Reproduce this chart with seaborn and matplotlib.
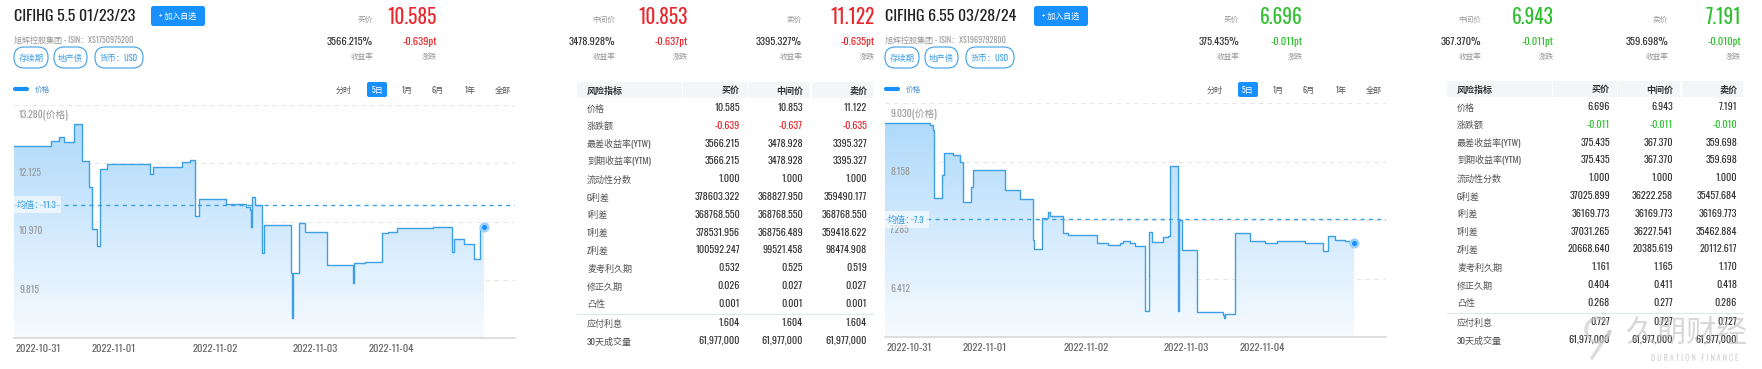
import numpy as np
import seaborn as sns
import matplotlib.pyplot as plt
from matplotlib.patches import FancyBboxPatch, Arc
from matplotlib.colors import LinearSegmentedColormap
from matplotlib.transforms import ScaledTranslation

sns.set_theme(style='white')
plt.rcParams['font.family'] = ['Oswald', 'Noto Sans CJK SC', 'DejaVu Sans']
plt.rcParams['axes.unicode_minus'] = False

# ---- data: 5日价格走势 (t = 时间位置, v = 价格) ----
t_left = [0, 37.3, 45, 50, 59.7, 68, 75, 78, 83.3, 85.7, 93.3, 135.7, 139, 168, 176.3, 180.7,
          181.3, 184.7, 211.7, 232.3, 235.7, 237.3, 238.3, 240.7, 248, 250, 277.3, 278, 279,
          285, 290.7, 313, 339, 339.7, 350.7, 368.3, 374, 383.3, 419, 438, 439.7, 449.7, 460,
          466.3, 469.7]
v_left = [12.468, 12.567, 12.639, 12.547, 12.897, 12.164, 11.662, 10.823, 10.487, 12.005, 12.104,
          11.906, 12.058, 12.157, 12.190, 12.091, 11.081, 11.418, 11.319, 11.266, 11.200, 10.856,
          11.451, 11.299, 10.341, 10.903, 9.945, 9.053, 9.945, 10.949, 10.764, 10.110, 9.747,
          10.143, 10.176, 10.737, 10.757, 10.837, 10.863, 10.374, 10.619, 10.526, 10.222,
          10.853, 10.853]

t_right = [0, 45, 48.3, 49.3, 57.3, 59.3, 68.3, 75, 78.3, 85.7, 87.7, 120, 135, 147.7, 149.3,
           157.3, 163.3, 165, 177.7, 183.3, 211.7, 223.3, 235, 238.3, 245, 250, 260, 264.3, 266.7,
           278.3, 283.3, 285, 293.3, 294, 297.3, 312.3, 338.3, 339.3, 340.3, 350, 365, 380, 391.7,
           420, 438.3, 443.3, 450, 460, 465, 469.3]
v_right = [8.731, 8.706, 8.631, 7.618, 7.957, 8.282, 8.257, 8.157, 7.558, 7.783, 8.042, 7.733,
           7.608, 6.985, 6.860, 7.324, 7.409, 7.344, 7.099, 7.069, 6.950, 6.925, 6.950, 6.970,
           6.950, 6.910, 5.927, 7.109, 6.960, 7.034, 7.059, 8.097, 5.927, 7.284, 6.845, 5.922,
           5.872, 5.827, 5.887, 7.099, 6.970, 6.945, 6.970, 6.955, 6.835, 7.049, 6.985, 6.970,
           6.943, 6.943]

date_ticks = [24, 100, 201, 301, 377]
date_labels = ['2022-10-31', '2022-11-01', '2022-11-02', '2022-11-03', '2022-11-04']
yticks_left = [13.280, 12.125, 10.970, 9.815]
yticks_right = [9.030, 8.158, 7.285, 6.412]
mean_left, mean_right = 11.3, 7.3

# ---- 表头 ----
titles = ['CIFIHG 5.5 01/23/23', 'CIFIHG 6.55 03/28/24']
isins = ['XS1750975200', 'XS1969792800']
price_names = ['买价', '中间价', '卖价']
prices_left = ['10.585', '10.853', '11.122']
yields_left = ['3566.215%', '3478.928%', '3395.327%']
changes_left = ['-0.639pt', '-0.637pt', '-0.635pt']
prices_right = ['6.696', '6.943', '7.191']
yields_right = ['375.435%', '367.370%', '359.698%']
changes_right = ['-0.011pt', '-0.011pt', '-0.010pt']
tags = ['存续期', '地产债', '货币：USD']
periods = ['分时', '5日', '1月', '6月', '1年', '全部']

# ---- 风险指标表 ----
row_labels = ['价格', '涨跌额', '最差收益率(YTW)', '到期收益率(YTM)', '流动性分数', 'G利差', 'I利差',
              'T利差', 'Z利差', '麦考利久期', '修正久期', '凸性', '应付利息', '30天成交量']
bid_left = ['10.585', '-0.639', '3566.215', '3566.215', '1.000', '378603.322', '368768.550',
            '378531.956', '100592.247', '0.532', '0.026', '0.001', '1.604', '61,977,000']
mid_left = ['10.853', '-0.637', '3478.928', '3478.928', '1.000', '368827.950', '368768.550',
            '368756.489', '99521.458', '0.525', '0.027', '0.001', '1.604', '61,977,000']
ask_left = ['11.122', '-0.635', '3395.327', '3395.327', '1.000', '359490.177', '368768.550',
            '359418.622', '98474.908', '0.519', '0.027', '0.001', '1.604', '61,977,000']
bid_right = ['6.696', '-0.011', '375.435', '375.435', '1.000', '37025.899', '36169.773',
             '37031.265', '20668.640', '1.161', '0.404', '0.268', '0.727', '61,977,000']
mid_right = ['6.943', '-0.011', '367.370', '367.370', '1.000', '36222.258', '36169.773',
             '36227.541', '20385.619', '1.165', '0.411', '0.277', '0.727', '61,977,000']
ask_right = ['7.191', '-0.010', '359.698', '359.698', '1.000', '35457.684', '36169.773',
             '35462.884', '20112.617', '1.170', '0.418', '0.286', '0.727', '61,977,000']

RED, GREEN, BLUE = '#e8262b', '#2fc02f', '#1890ff'
LINE = '#3d9fe6'

W, H = 1762, 369
fig = plt.figure(figsize=(W / 100, H / 100), dpi=100)
bg = fig.add_axes([0, 0, 1, 1])
bg.set_xlim(0, W)
bg.set_ylim(H, 0)
bg.axis('off')


def rbox(x0, y0, x1, y1, r, fc, ec='none', lw=0):
    bg.add_patch(FancyBboxPatch((x0, y0), x1 - x0, y1 - y0,
                                boxstyle=f'round,pad=0,rounding_size={r}', fc=fc, ec=ec, lw=lw))


def header(dx, hdx, btn_x, title, isin, prices, yields, changes, col):
    bg.text(14 + dx, 16.5, title, fontsize=11.5, fontweight='bold', color='#222', va='center')
    rbox(btn_x, 6, btn_x + 54, 26, 2.5, BLUE)
    bg.text(btn_x + 27, 16, '+ 加入自选', color='white', fontsize=5.8, ha='center', va='center')
    bg.text(14 + dx, 39.5, f'旭辉控股集团 - ISIN：{isin}', fontsize=5.8, color='#999', va='center')
    for (x0, x1), tg in zip([(14, 48), (54, 87), (95, 143)], tags):
        rbox(x0 + dx, 47, x1 + dx, 68, 10, 'white', '#3d9fe6', 0.8)
        bg.text((x0 + x1) / 2 + dx, 57.5, tg, fontsize=6, color='#3d9fe6', ha='center', va='center')
    for lx, vx, nm, p, y, c in zip([373, 615, 802], [437, 688, 875], price_names, prices, yields, changes):
        bg.text(lx + hdx, 19, nm, fontsize=5.5, color='#999', ha='right', va='center')
        bg.text(vx + hdx, 16.5, p, fontsize=14, color=col, ha='right', va='center')
        bg.text(lx + hdx, 42, y, fontsize=7.6, color='#333', ha='right', va='center')
        bg.text(vx + hdx, 42, c, fontsize=7.6, color=col, ha='right', va='center')
        bg.text(lx + hdx, 55.5, '收益率', fontsize=5.5, color='#999', ha='right', va='center')
        bg.text(vx + hdx, 55.5, '涨跌', fontsize=5.5, color='#999', ha='right', va='center')
    # legend + period buttons
    bg.plot([15 + dx, 27 + dx], [89, 89], color=BLUE, lw=3, solid_capstyle='round')
    bg.text(35 + dx, 89, '价格', fontsize=5.5, color='#4a90d0', va='center')
    for x, pr in zip([344, 377, 407, 438, 470, 503], periods):
        if pr == '5日':
            rbox(367 + dx, 82, 387 + dx, 97, 2, BLUE)
            bg.text(x + dx, 89.5, pr, fontsize=5.8, color='white', ha='center', va='center')
        else:
            bg.text(x + dx, 89.5, pr, fontsize=5.8, color='#555', ha='center', va='center')


def table(dx, y0, bid, mid, ask, col):
    for x0, x1 in [(577, 682), (683, 747), (748, 810), (812, 873)]:
        bg.add_patch(plt.Rectangle((x0 + dx, y0 - 8), x1 - x0, 16, fc='#f4f5f7', ec='none'))
    bg.text(587 + dx, y0, '风险指标', fontsize=6.5, color='#333', fontweight='bold', va='center')
    for x, nm in zip([740, 803, 867], price_names):
        bg.text(x + dx, y0, nm, fontsize=6.5, color='#333', fontweight='bold', ha='right', va='center')
    for i, lab in enumerate(row_labels):
        y = y0 + 18 + i * 17.8 + (1.5 if i >= 12 else 0)
        bg.text(587 + dx, y, lab, fontsize=6.5, color='#555', va='center')
        for x, vals in zip([740, 803, 867], [bid, mid, ask]):
            c = col if i == 1 else '#333'
            bg.text(x + dx, y, vals[i], fontsize=7.3, color=c, ha='right', va='center')
    ysep = y0 + 18 + 11.5 * 17.8 + 1
    bg.plot([577 + dx, 873 + dx], [ysep, ysep], color='#dde8f3', lw=0.8)


def chart(dx, ytop_px, ybot_px, t, v, yt, mean):
    ax = fig.add_axes([(14 + dx) / W, 1 - ybot_px / H, 501 / W, (ybot_px - ytop_px) / H])
    ax.set_facecolor('none')
    step = yt[0] - yt[1]
    ytop, ybot = yt[0], yt[0] - 4 * step
    fb = ax.fill_between(t, v, ybot, step='post', facecolor='none', edgecolor='none')
    cmap = LinearSegmentedColormap.from_list('fade', ['#f7fbff', '#a9d7fb'])
    grad = np.linspace(0, 1, 256).reshape(-1, 1)
    img = ax.imshow(grad, extent=[0, 501, ybot, ytop], origin='lower', aspect='auto', cmap=cmap, zorder=1)
    img.set_clip_path(fb.get_paths()[0], transform=ax.transData)
    sns.lineplot(x=t, y=v, ax=ax, drawstyle='steps-post', estimator=None, sort=False,
                 color=LINE, linewidth=1.0, zorder=3)
    ax.axhline(mean, color=LINE, lw=1, ls=(0, (3, 3)), zorder=4)
    sns.scatterplot(x=[t[-1]], y=[v[-1]], ax=ax, s=30, color=BLUE, edgecolor='#9fd0fa',
                    linewidth=1.8, zorder=5, clip_on=False)
    ax.set_xlim(0, 501)
    ax.set_ylim(ybot, ytop)
    ax.set_yticks(yt)
    ax.yaxis.grid(True, linestyle=(0, (4, 4)), color='#e6e6e6', linewidth=0.8)
    ax.xaxis.grid(False)
    ax.tick_params(axis='y', length=0, labelleft=False)
    ax.set_xticks(date_ticks, date_labels)
    ax.tick_params(axis='x', length=0, pad=4, labelsize=7.6, labelcolor='#666')
    ax.set_xlabel('')
    ax.set_ylabel('')
    for s in ['top', 'left', 'right']:
        ax.spines[s].set_visible(False)
    ax.spines['bottom'].set_color('#d9d9d9')
    off = ax.transData + ScaledTranslation(0, -0.10, fig.dpi_scale_trans)
    for i, y in enumerate(yt):
        lab = f'{y:.3f}(价格)' if i == 0 else f'{y:.3f}'
        ax.text(5, y, lab, transform=off, fontsize=7, color='#999', va='center')
    ax.text(3, mean, f'均值：{mean}', fontsize=6.5, color='#3d9fe6', va='center', zorder=6,
            bbox=dict(boxstyle='square,pad=0.45', fc='white', ec='none', alpha=0.6))


header(0, 0, 151, titles[0], isins[0], prices_left, yields_left, changes_left, RED)
header(871, 866, 1034, titles[1], isins[1], prices_right, yields_right, changes_right, GREEN)
table(0, 90, bid_left, mid_left, ask_left, RED)
table(870, 89, bid_right, mid_right, ask_right, GREEN)
chart(0, 105, 338, t_left, v_left, yticks_left, mean_left)
chart(871, 103.3, 337.3, t_right, v_right, yticks_right, mean_right)

# 水印
wm = fig.add_axes([0, 0, 1, 1], facecolor='none')
wm.set_xlim(0, W)
wm.set_ylim(H, 0)
wm.axis('off')
wm.add_patch(Arc((1598, 330), 24, 24, theta1=0, theta2=330, color='#c4c4c4', lw=2.5, alpha=0.6))
wm.plot([1609, 1592], [332, 358], color='#c4c4c4', lw=2.5, alpha=0.6)
wm.text(1687, 333, '久期财经', fontsize=22, color='#b8b8b8', alpha=0.55, ha='center', va='center')
wm.text(1695, 358, 'D U R A T I O N   F I N A N C E', fontsize=6, color='#b8b8b8', alpha=0.6,
        ha='center', va='center')

fig.savefig('out.png', dpi=100, facecolor='white')
